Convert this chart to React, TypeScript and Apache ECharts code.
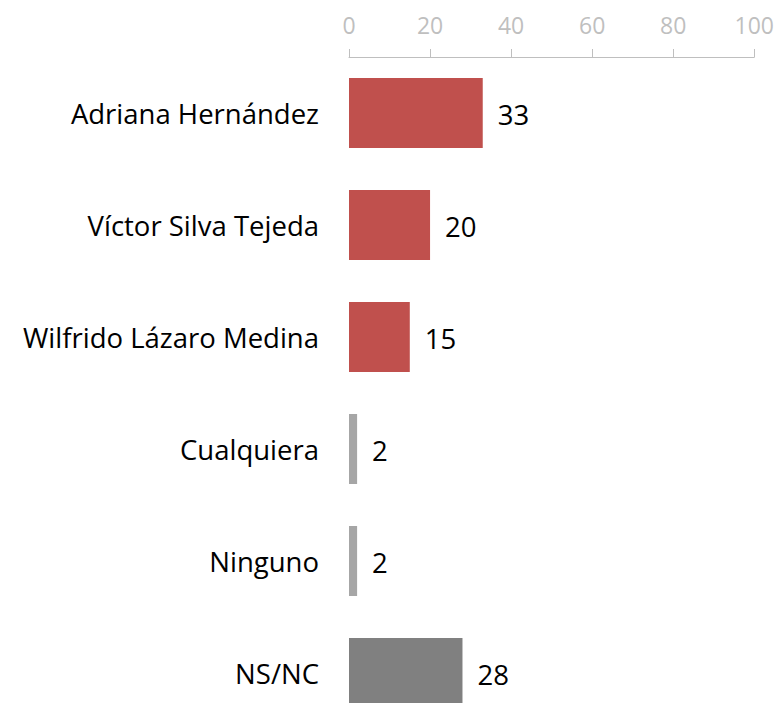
import React, { useEffect, useRef } from "react";
import * as echarts from "echarts";

const categories = [
  "Adriana Hernández",
  "Víctor Silva Tejeda",
  "Wilfrido Lázaro Medina",
  "Cualquiera",
  "Ninguno",
  "NS/NC",
];
const values = [33, 20, 15, 2, 2, 28];
const barColors = ["#C0504D", "#C0504D", "#C0504D", "#A6A6A6", "#A6A6A6", "#808080"];
const axisTicks = [0, 20, 40, 60, 80, 100];

export default function App() {
  const ref = useRef<HTMLDivElement>(null);
  useEffect(() => {
    if (!ref.current) return;
    const chart = echarts.init(ref.current, null, { renderer: "svg" });
    const font = "'Open Sans', 'Noto Sans', sans-serif";
    chart.setOption({
      animation: false,
      textStyle: { fontFamily: font },
      grid: { left: 349, top: 57, width: 406, height: 672, containLabel: false },
      xAxis: {
        type: "value",
        position: "top",
        min: axisTicks[0],
        max: axisTicks[axisTicks.length - 1],
        interval: 20,
        splitLine: { show: false },
        axisLine: { show: true, lineStyle: { color: "#BFBFBF", width: 1 } },
        axisTick: { show: true, length: 8, lineStyle: { color: "#BFBFBF" } },
        axisLabel: { color: "#BFBFBF", fontSize: 23, fontFamily: font, margin: 21 },
      },
      yAxis: {
        type: "category",
        inverse: true,
        data: categories,
        axisLine: { show: false },
        axisTick: { show: false },
        axisLabel: { color: "#000000", fontSize: 27.5, fontFamily: font, margin: 30 },
      },
      series: [
        {
          type: "bar",
          barWidth: 70,
          data: values.map((v, i) => ({ value: v, itemStyle: { color: barColors[i] } })),
          label: {
            show: true,
            position: "right",
            distance: 15,
            color: "#000000",
            fontSize: 27.5,
            fontFamily: font,
            offset: [0, 1],
          },
        },
      ],
    });
    return () => chart.dispose();
  }, []);
  return (
    <div
      style={{
        position: "fixed",
        left: 0,
        top: 0,
        width: 777,
        height: 703,
        overflow: "hidden",
        background: "#fff",
      }}
    >
      <div ref={ref} style={{ width: 777, height: 760 }} />
    </div>
  );
}
